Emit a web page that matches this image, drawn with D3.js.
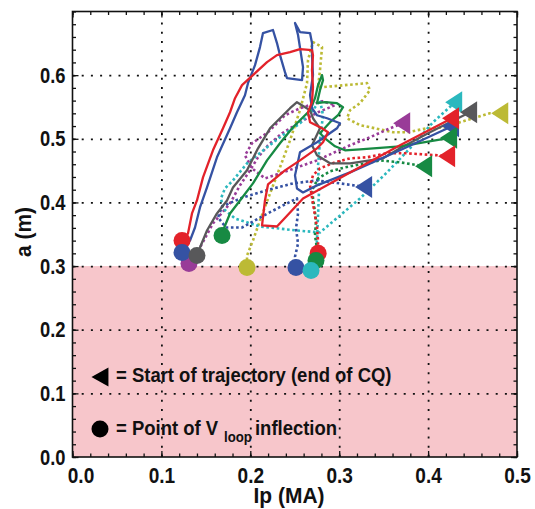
<!DOCTYPE html>
<html>
<head>
<meta charset="utf-8">
<script src="https://cdn.jsdelivr.net/npm/d3@7"></script>
<style>
  body { margin: 0; background: #fff; }
  svg text { font-family: "Liberation Sans", Arial, sans-serif; font-weight: bold; fill: #111; }
</style>
</head>
<body>
<svg id="chart" width="535" height="509"></svg>
<script>
// ---- axis ticks ----
const xTicks = [0, 0.1, 0.2, 0.3, 0.4, 0.5];
const xTickLabels = ["0.0", "0.1", "0.2", "0.3", "0.4", "0.5"];
const yTicks = [0, 0.1, 0.2, 0.3, 0.4, 0.5, 0.6];
const yTickLabels = ["0.0", "0.1", "0.2", "0.3", "0.4", "0.5", "0.6"];
const xDomain = [0, 0.5];
const yDomain = [0, 0.7];
const minRadiusLimit = 0.3; // shaded band below a = 0.3 m

// ---- trajectories: [Ip (MA), a (m)], from end of CQ to V_loop inflection ----
const redSolid = [
  [0.4268,0.5323],[0.3684,0.4898],[0.3122,0.4472],[0.2593,0.4063],[0.2447,0.3843],[0.2300,0.3622],
  [0.2132,0.3638],[0.2165,0.4031],[0.2199,0.4283],[0.2390,0.4504],[0.2559,0.4661],[0.2750,0.4850],
  [0.2818,0.4945],[0.2874,0.5102],[0.2807,0.5165],[0.2672,0.5260],[0.2649,0.5417],[0.2694,0.5575],
  [0.2705,0.5811],[0.2694,0.6079],[0.2705,0.6315],[0.2694,0.6394],[0.2559,0.6409],[0.2447,0.6362],
  [0.2300,0.6315],[0.2188,0.6205],[0.2030,0.6000],[0.1907,0.5843],[0.1828,0.5638],[0.1772,0.5417],
  [0.1693,0.5165],[0.1580,0.4819],[0.1468,0.4394],[0.1400,0.4031],[0.1344,0.3827],[0.1299,0.3512],
  [0.1232,0.3402]
];
const blueSolid = [
  [0.4268,0.5197],[0.3684,0.4819],[0.3122,0.4472],[0.2750,0.4268],[0.2593,0.4157],[0.2525,0.4220],
  [0.2503,0.4425],[0.2559,0.4787],[0.2750,0.4945],[0.2975,0.5165],[0.3009,0.5244],[0.2863,0.5323],
  [0.2750,0.5370],[0.2694,0.5480],[0.2672,0.5685],[0.2705,0.6000],[0.2694,0.6315],[0.2694,0.6504],
  [0.2672,0.6661],[0.2559,0.6677],[0.2503,0.6819],[0.2537,0.6630],[0.2593,0.6126],[0.2582,0.5921],
  [0.2413,0.5953],[0.2390,0.6047],[0.2334,0.6315],[0.2300,0.6504],[0.2255,0.6709],[0.2143,0.6661],
  [0.2109,0.6441],[0.2053,0.6157],[0.1974,0.5874],[0.1940,0.5685],[0.1850,0.5417],[0.1772,0.5165],
  [0.1625,0.4709],[0.1513,0.4236],[0.1434,0.3921],[0.1378,0.3606],[0.1322,0.3402],[0.1232,0.3213]
];
const graySolid = [
  [0.4471,0.5417],[0.4021,0.5102],[0.3684,0.4850],[0.3493,0.4693],[0.3122,0.4614],[0.2897,0.4614],
  [0.2750,0.4740],[0.2694,0.4898],[0.2784,0.5165],[0.2705,0.5323],[0.2672,0.5449],[0.2525,0.5575],
  [0.2447,0.5480],[0.2222,0.5165],[0.2087,0.4850],[0.1963,0.4504],[0.1805,0.4236],[0.1738,0.4031],
  [0.1625,0.3827],[0.1513,0.3559],[0.1434,0.3291],[0.1400,0.3165]
];
const greenSolid = [
  [0.4246,0.5016],[0.3684,0.4882],[0.3234,0.4835],[0.3065,0.4819],[0.2953,0.4882],[0.2840,0.5008],
  [0.2784,0.5087],[0.2897,0.5260],[0.2987,0.5370],[0.3043,0.5496],[0.2975,0.5559],[0.2840,0.5575],
  [0.2750,0.5559],[0.2784,0.5764],[0.2818,0.5921],[0.2807,0.6000],[0.2762,0.5843],[0.2728,0.5638],
  [0.2672,0.5449],[0.2559,0.5291],[0.2480,0.5181],[0.2334,0.4929],[0.2188,0.4661],[0.2030,0.4299],
  [0.1884,0.4031],[0.1772,0.3827],[0.1693,0.3559],[0.1682,0.3480]
];
const yellowDotted = [
  [0.4821,0.5402],[0.4696,0.5402],[0.4359,0.5260],[0.4213,0.5181],[0.3988,0.5165],[0.3763,0.5102],
  [0.3605,0.5102],[0.3403,0.5165],[0.3234,0.5213],[0.3088,0.5323],[0.3122,0.5449],[0.3234,0.5559],
  [0.3346,0.5764],[0.3313,0.5874],[0.3065,0.5843],[0.2818,0.5811],[0.2762,0.5811],[0.2784,0.6079],
  [0.2807,0.6441],[0.2705,0.6520],[0.2649,0.6236],[0.2638,0.5874],[0.2559,0.5449],[0.2447,0.4976],
  [0.2334,0.4551],[0.2222,0.4142],[0.2109,0.3717],[0.2030,0.3402],[0.1963,0.3165],[0.1963,0.2976]
];
const magentaDotted = [
  [0.3718,0.5244],[0.3571,0.5165],[0.3346,0.5024],[0.3122,0.4898],[0.2750,0.4661],[0.2368,0.4472],
  [0.2165,0.4378],[0.2019,0.4535],[0.1940,0.4740],[0.2019,0.4929],[0.2199,0.5102],[0.2390,0.5370],
  [0.2559,0.5480],[0.2807,0.5591],[0.2953,0.5528],[0.2762,0.5417],[0.2559,0.5260],[0.2357,0.5087],
  [0.2199,0.4898],[0.2087,0.4709],[0.1997,0.4504],[0.1884,0.4268],[0.1772,0.3984],[0.1580,0.3669],
  [0.1434,0.3291],[0.1310,0.3039]
];
const cyanDotted = [
  [0.4303,0.5575],[0.4055,0.5260],[0.3796,0.4850],[0.3538,0.4472],[0.3234,0.4063],[0.3009,0.3795],
  [0.2784,0.3528],[0.2525,0.3559],[0.2109,0.3622],[0.1828,0.3748],[0.1693,0.3906],[0.1670,0.4063],
  [0.1715,0.4220],[0.1805,0.4346],[0.1963,0.4614],[0.2188,0.4866],[0.2334,0.5024],[0.2559,0.5244],
  [0.2705,0.5449],[0.2784,0.5606],[0.2818,0.5370],[0.2784,0.4976],[0.2762,0.4583],[0.2773,0.4189],
  [0.2762,0.3795],[0.2750,0.3402],[0.2728,0.3118],[0.2683,0.2929]
];
const blueDotted = [
  [0.3290,0.4244],[0.3009,0.4299],[0.2750,0.4346],[0.2480,0.4299],[0.2222,0.4205],[0.1918,0.4079],
  [0.1682,0.3937],[0.1637,0.3764],[0.1727,0.3606],[0.1907,0.3606],[0.2132,0.3780],[0.2368,0.3953],
  [0.2525,0.4063],[0.2537,0.3827],[0.2514,0.3591],[0.2537,0.3354],[0.2503,0.3150],[0.2514,0.2976]
];
const redDotted = [
  [0.4224,0.4724],[0.4112,0.4740],[0.3763,0.4772],[0.3538,0.4772],[0.3313,0.4709],[0.3122,0.4693],
  [0.2953,0.4630],[0.2784,0.4535],[0.2705,0.4425],[0.2672,0.4268],[0.2705,0.3984],[0.2728,0.3795],
  [0.2750,0.3606],[0.2762,0.3402],[0.2763,0.3200]
];
const greenDotted = [
  [0.3965,0.4567],[0.3684,0.4630],[0.3459,0.4661],[0.3234,0.4598],[0.3065,0.4551],[0.2897,0.4488],
  [0.2762,0.4378],[0.2694,0.4189],[0.2717,0.3953],[0.2739,0.3717],[0.2728,0.3480],[0.2750,0.3276],
  [0.2739,0.3087]
];

const palette = {
  red: "#e3222a", blue: "#3552a3", gray: "#58585a", green: "#178a43",
  yellow: "#bcba35", magenta: "#993c98", cyan: "#2bb8be"
};

// drawing order for the lines (later ones on top)
const lineSeries = [
  { pts: yellowDotted, color: palette.yellow, dotted: true },
  { pts: magentaDotted, color: palette.magenta, dotted: true },
  { pts: cyanDotted, color: palette.cyan, dotted: true },
  { pts: blueDotted, color: palette.blue, dotted: true },
  { pts: greenDotted, color: palette.green, dotted: true },
  { pts: redDotted, color: palette.red, dotted: true },
  { pts: graySolid, color: palette.gray, dotted: false },
  { pts: greenSolid, color: palette.green, dotted: false },
  { pts: blueSolid, color: palette.blue, dotted: false },
  { pts: redSolid, color: palette.red, dotted: false }
];
// marker stacking order
const triangleOrder = [cyanDotted, graySolid, yellowDotted, blueSolid, greenSolid, redSolid, redDotted, greenDotted, magentaDotted, blueDotted];
const circleOrder = [magentaDotted, redSolid, blueSolid, graySolid, greenSolid, yellowDotted, blueDotted, redDotted, greenDotted, cyanDotted];
const colorOf = new Map(lineSeries.map(s => [s.pts, s.color]));

const svg = d3.select("#chart");
const plotLeft = 72.5, plotRight = 517, plotTop = 11.5, plotBottom = 457;
const x = d3.scaleLinear().domain(xDomain).range([plotLeft, plotRight]);
const y = d3.scaleLinear().domain(yDomain).range([plotBottom, plotTop]);
const W = plotRight - plotLeft, H = plotBottom - plotTop;

// condensed bold lettering: squeeze a text run to a given width
function fitWidth(sel, width) {
  sel.attr("textLength", width).attr("lengthAdjust", "spacingAndGlyphs");
}

// shaded band
svg.append("rect")
  .attr("x", x(xDomain[0])).attr("y", y(minRadiusLimit))
  .attr("width", x(xDomain[1]) - x(xDomain[0]))
  .attr("height", y(0) - y(minRadiusLimit))
  .attr("fill", "#f7c6cb");

// dotted grid
const gridX = svg.append("g").attr("transform", `translate(0,${plotBottom})`)
  .call(d3.axisBottom(x).tickValues(xTicks.slice(1, -1)).tickSize(-H).tickFormat(""));
const gridY = svg.append("g").attr("transform", `translate(${plotLeft},0)`)
  .call(d3.axisLeft(y).tickValues(yTicks.slice(1)).tickSize(-W).tickFormat(""));
[gridX, gridY].forEach(g => {
  g.select(".domain").remove();
  g.selectAll("line").attr("stroke", "#111").attr("stroke-width", 1.8).attr("stroke-dasharray", "2,7.2");
});

// trajectories
const line = d3.line().x(d => x(d[0])).y(d => y(d[1]));
svg.append("g").selectAll("path").data(lineSeries).join("path")
  .attr("d", d => line(d.pts))
  .attr("fill", "none")
  .attr("stroke", d => d.color)
  .attr("stroke-width", d => d.dotted ? 2.6 : 2.3)
  .attr("stroke-dasharray", d => d.dotted ? "2.6,2.6" : null)
  .attr("stroke-linejoin", "round");

// start markers (left-pointing triangles) and end markers (circles)
const triPath = (w, h) => `M${-w * 0.58},0L${w * 0.42},${-h / 2}L${w * 0.42},${h / 2}Z`;
svg.append("g").selectAll("path").data(triangleOrder).join("path")
  .attr("d", triPath(17, 22))
  .attr("transform", d => `translate(${x(d[0][0])},${y(d[0][1])})`)
  .attr("fill", d => colorOf.get(d));
svg.append("g").selectAll("circle").data(circleOrder).join("circle")
  .attr("cx", d => x(d[d.length - 1][0]))
  .attr("cy", d => y(d[d.length - 1][1]))
  .attr("r", 8.5)
  .attr("fill", d => colorOf.get(d));

// axes with inward ticks on all four sides
function styleAxis(g) {
  g.select(".domain").remove();
  g.selectAll("line").attr("stroke", "#111").attr("stroke-width", 1.3);
  g.selectAll("text").style("font-size", "22px");
}
const xMinor = d3.range(0, 0.5001, 0.02);
const yMinor = d3.range(0, 0.7001, 0.02);
svg.append("g").attr("transform", `translate(0,${plotBottom})`)
  .call(d3.axisBottom(x).tickValues(xMinor).tickSize(-3.5).tickFormat("")).call(styleAxis);
svg.append("g").attr("transform", `translate(0,${plotTop})`)
  .call(d3.axisTop(x).tickValues(xMinor).tickSize(-3.5).tickFormat("")).call(styleAxis);
svg.append("g").attr("transform", `translate(${plotLeft},0)`)
  .call(d3.axisLeft(y).tickValues(yMinor).tickSize(-3.5).tickFormat("")).call(styleAxis);
svg.append("g").attr("transform", `translate(${plotRight},0)`)
  .call(d3.axisRight(y).tickValues(yMinor).tickSize(-3.5).tickFormat("")).call(styleAxis);

const xAxis = svg.append("g").attr("transform", `translate(0,${plotBottom})`)
  .call(d3.axisBottom(x).tickValues(xTicks).tickSize(-6).tickPadding(10)
    .tickFormat((d, i) => xTickLabels[i])).call(styleAxis);
xAxis.selectAll("text").call(fitWidth, 26.5);
xAxis.selectAll("text").filter((d, i) => i === 0).attr("dx", 8);
svg.append("g").attr("transform", `translate(0,${plotTop})`)
  .call(d3.axisTop(x).tickValues(xTicks).tickSize(-6).tickFormat("")).call(styleAxis);
const yAxis = svg.append("g").attr("transform", `translate(${plotLeft},0)`)
  .call(d3.axisLeft(y).tickValues(yTicks).tickSize(-6).tickPadding(7)
    .tickFormat((d, i) => yTickLabels[i])).call(styleAxis);
yAxis.selectAll("text").call(fitWidth, 25.5);
svg.append("g").attr("transform", `translate(${plotRight},0)`)
  .call(d3.axisRight(y).tickValues(yTicks).tickSize(-6).tickFormat("")).call(styleAxis);

// frame
svg.append("rect").attr("x", plotLeft).attr("y", plotTop).attr("width", W).attr("height", H)
  .attr("fill", "none").attr("stroke", "#111").attr("stroke-width", 1.6);

// axis titles
svg.append("text").attr("x", 289).attr("y", 503)
  .attr("text-anchor", "middle").style("font-size", "22px").text("Ip (MA)")
  .call(fitWidth, 71);
svg.append("text").attr("transform", "translate(31,232) rotate(-90)")
  .attr("text-anchor", "middle").style("font-size", "22px").text("a (m)")
  .call(fitWidth, 50);

// legend
const squeeze = 0.88;
svg.append("path").attr("d", triPath(17, 19)).attr("transform", "translate(101.3,377)").attr("fill", "#000");
svg.append("text").attr("transform", `translate(116,382) scale(${squeeze},1)`).style("font-size", "21px")
  .text("= Start of trajectory (end of CQ)");
svg.append("circle").attr("cx", 100).attr("cy", 429).attr("r", 8.5).attr("fill", "#000");
const vLegend = svg.append("text").attr("transform", `translate(116,435) scale(${squeeze},1)`)
  .style("font-size", "21px");
vLegend.append("tspan").attr("x", 0).attr("y", 0).text("= Point of V");
vLegend.append("tspan").attr("x", (224 - 116) / squeeze).attr("y", 7).style("font-size", "15px").text("loop");
vLegend.append("tspan").attr("x", (255 - 116) / squeeze).attr("y", 0).text("inflection");
</script>
</body>
</html>
